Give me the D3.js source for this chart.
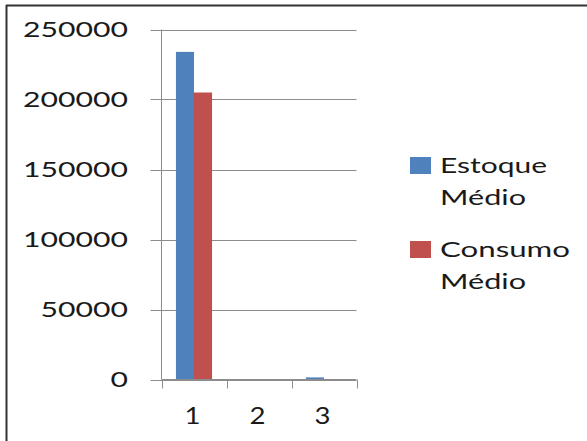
<!DOCTYPE html>
<html><head><meta charset="utf-8">
<script src="https://cdn.jsdelivr.net/npm/d3@7"></script>
<style>html,body{margin:0;padding:0;background:#fff;}svg{display:block;}</style>
</head><body>
<script>
const categories = ["1", "2", "3"];
const seriesNames = ["Estoque Médio", "Consumo Médio"];
const estoqueMedio = [234000, 100, 1500];
const consumoMedio = [205000, 50, 150];
const yTicks = [0, 50000, 100000, 150000, 200000, 250000];
const colors = ["#4F81BD", "#C0504D"];

(function () {
const W = 587, H = 441;
const svg = d3.select("body").append("svg").attr("width", W).attr("height", H);
const font = "Lato, 'Open Sans', sans-serif";

// outer frame (top + left only visible)
svg.append("line").attr("x1", 6).attr("x2", W).attr("y1", 5.5).attr("y2", 5.5).attr("stroke", "#333").attr("stroke-width", 2);
svg.append("line").attr("x1", 6.5).attr("x2", 6.5).attr("y1", 5).attr("y2", H).attr("stroke", "#333").attr("stroke-width", 2);

const pLeft = 161.5, pRight = 356.5, pTop = 29.5, pBottom = 379.5;
const x = d3.scaleBand().domain(categories).range([pLeft, pRight]).paddingInner(0).paddingOuter(0);
const y = d3.scaleLinear().domain([0, 250000]).range([pBottom, pTop]);
const xs = d3.scaleBand().domain([0, 1]).range([0, x.bandwidth()]).paddingInner(0).paddingOuter(0.8);

// gridlines
svg.append("g").selectAll("line").data(yTicks).join("line")
  .attr("x1", pLeft - 11).attr("x2", pRight)
  .attr("y1", d => Math.round(y(d)) + 0.5).attr("y2", d => Math.round(y(d)) + 0.5)
  .attr("stroke", "#8c8c8c").attr("stroke-width", 1);

// bars
const data = [estoqueMedio, consumoMedio];
data.forEach((vals, si) => {
  svg.append("g").selectAll("rect").data(vals).join("rect")
    .attr("x", (d, i) => x(categories[i]) + xs(si))
    .attr("width", xs.bandwidth())
    .attr("y", d => y(d))
    .attr("height", d => pBottom - y(d))
    .attr("fill", colors[si]);
});

// y axis line
svg.append("line").attr("x1", pLeft).attr("x2", pLeft).attr("y1", pTop).attr("y2", pBottom).attr("stroke", "#8c8c8c");
// x axis line and ticks
svg.append("line").attr("x1", pLeft).attr("x2", pRight).attr("y1", pBottom).attr("y2", pBottom).attr("stroke", "#8c8c8c");
const xt = categories.map(c => x(c)).concat([pRight]);
svg.append("g").selectAll("line").data(xt).join("line")
  .attr("x1", d => Math.round(d) + 0.5).attr("x2", d => Math.round(d) + 0.5)
  .attr("y1", pBottom).attr("y2", pBottom + 9).attr("stroke", "#8c8c8c");

// y tick labels
svg.append("g").selectAll("text").data(yTicks).join("text")
  .attr("x", 128).attr("y", d => y(d)).attr("dy", "0.36em")
  .attr("text-anchor", "end")
  .attr("font-family", font).attr("font-size", 21).attr("fill", "#1a1a1a")
  .attr("textLength", d => String(d).length * 17.5).attr("lengthAdjust", "spacingAndGlyphs")
  .text(d => d);

// x labels
svg.append("g").selectAll("text").data(categories).join("text")
  .attr("x", d => x(d) + x.bandwidth() / 2 - 1.5).attr("y", 424)
  .attr("text-anchor", "middle")
  .attr("font-family", font).attr("font-size", 24).attr("fill", "#1a1a1a")
  .attr("textLength", 16).attr("lengthAdjust", "spacingAndGlyphs")
  .text(d => d);

// legend
const legendLines = [["Estoque", "Médio"], ["Consumo", "Médio"]];
const lenMap = {"Estoque": 107, "Consumo": 130, "Médio": 86};
seriesNames.forEach((name, i) => {
  const gy = 157 + i * 84;
  svg.append("rect").attr("x", 410).attr("y", gy).attr("width", 21).attr("height", 17).attr("fill", colors[i]);
  legendLines[i].forEach((t, j) => {
    svg.append("text").attr("x", 440).attr("y", gy + 16 + j * 31.5)
      .attr("font-family", font).attr("font-size", 21).attr("fill", "#1a1a1a")
      .attr("textLength", lenMap[t]).attr("lengthAdjust", "spacingAndGlyphs")
      .text(t);
  });
});
})();
</script>
</body></html>
